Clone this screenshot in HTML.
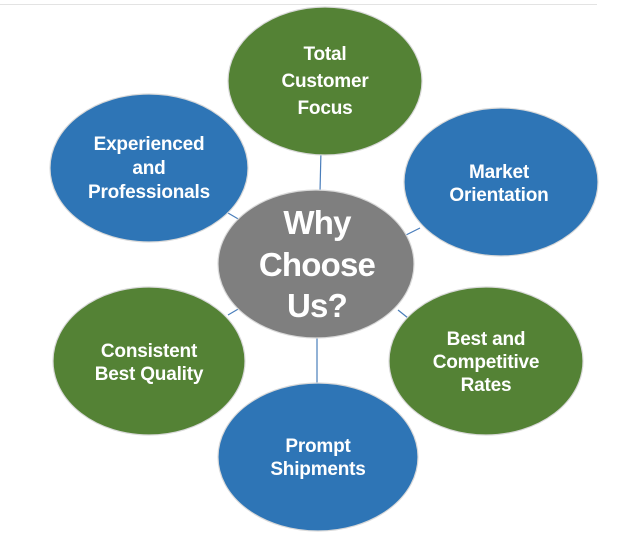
<!DOCTYPE html>
<html><head><meta charset="utf-8"><style>
html,body{margin:0;padding:0;background:#fff;width:632px;height:537px;overflow:hidden}
svg{display:block}
text{font-family:"Liberation Sans",sans-serif;font-weight:bold;fill:#fff;text-anchor:middle}
.s{font-size:19px;letter-spacing:-0.2px}
.b{font-size:33px;letter-spacing:-0.8px}
</style></head><body>
<svg width="632" height="537" viewBox="0 0 632 537">
<line x1="0" y1="4.5" x2="597" y2="4.5" stroke="#e3e3e3" stroke-width="1"/>
<g stroke="#4a7ebb" stroke-width="1.2">
<line x1="321" y1="150" x2="320" y2="192"/>
<line x1="228" y1="213" x2="240" y2="220"/>
<line x1="406" y1="235" x2="420" y2="228"/>
<line x1="228" y1="315" x2="240" y2="308"/>
<line x1="398" y1="310" x2="408" y2="318"/>
<line x1="317" y1="338" x2="317" y2="384"/>
</g>
<g stroke="#d9d9d9" stroke-width="1.2">
<ellipse cx="325" cy="81" rx="97" ry="74" fill="#548235"/>
<ellipse cx="149" cy="168" rx="99" ry="74" fill="#2e75b6"/>
<ellipse cx="501" cy="182" rx="97" ry="74" fill="#2e75b6"/>
<ellipse cx="149" cy="361" rx="96" ry="74" fill="#548235"/>
<ellipse cx="486" cy="361" rx="97" ry="74" fill="#548235"/>
<ellipse cx="318" cy="457" rx="100" ry="74" fill="#2e75b6"/>
<ellipse cx="316" cy="264" rx="98" ry="74" fill="#7f7f7f"/>
</g>
<text class="s" x="325" y="60">Total</text>
<text class="s" x="325" y="87">Customer</text>
<text class="s" x="325" y="114">Focus</text>
<text class="s" x="149" y="150">Experienced</text>
<text class="s" x="149" y="174">and</text>
<text class="s" x="149" y="198">Professionals</text>
<text class="s" x="499" y="178">Market</text>
<text class="s" x="499" y="201">Orientation</text>
<text class="s" x="149" y="357">Consistent</text>
<text class="s" x="149" y="380">Best Quality</text>
<text class="s" x="486" y="345">Best and</text>
<text class="s" x="486" y="368">Competitive</text>
<text class="s" x="486" y="391">Rates</text>
<text class="s" x="318" y="452">Prompt</text>
<text class="s" x="318" y="475">Shipments</text>
<text class="b" x="317" y="234">Why</text>
<text class="b" x="317" y="276">Choose</text>
<text class="b" x="317" y="317">Us?</text>
</svg>
</body></html>
